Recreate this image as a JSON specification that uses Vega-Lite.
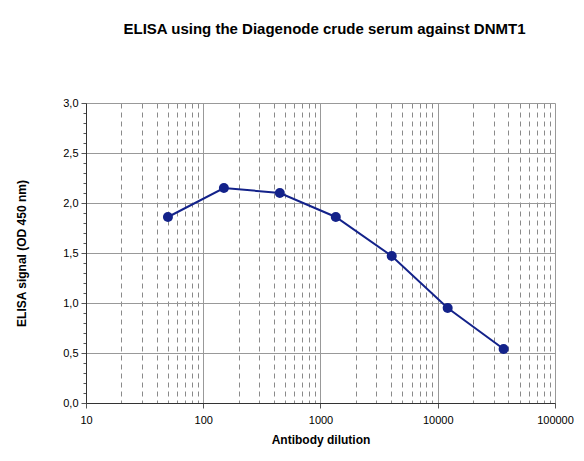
{
  "$schema": "https://vega.github.io/schema/vega-lite/v6.json",
  "width": 469,
  "height": 300,
  "autosize": {"type": "none"},
  "padding": {"left": 86, "top": 103, "right": 29, "bottom": 58},
  "background": "white",
  "title": {
    "text": "ELISA using the Diagenode crude serum against DNMT1",
    "font": "Liberation Sans",
    "fontSize": 15,
    "fontWeight": "bold",
    "color": "#000000",
    "anchor": "middle",
    "dx": 4,
    "offset": 60
  },
  "config": {
    "view": {"stroke": null},
    "axis": {
      "labelFont": "Liberation Sans",
      "labelFontSize": 11,
      "labelColor": "#000000",
      "titleFont": "Liberation Sans",
      "titleFontSize": 12,
      "titleFontWeight": "bold",
      "titleColor": "#000000",
      "domainColor": "#333333",
      "tickColor": "#555555",
      "gridColor": "#999999",
      "gridWidth": 1
    }
  },
  "data": {
    "values": [
      {"dilution": 50, "signal": 1.86},
      {"dilution": 150, "signal": 2.15},
      {"dilution": 450, "signal": 2.10},
      {"dilution": 1350, "signal": 1.86},
      {"dilution": 4050, "signal": 1.47},
      {"dilution": 12150, "signal": 0.95},
      {"dilution": 36450, "signal": 0.54}
    ]
  },
  "encoding": {
    "x": {
      "field": "dilution",
      "type": "quantitative",
      "scale": {"type": "log", "domain": [10, 100000], "nice": false},
      "axis": {
        "title": "Antibody dilution",
        "titlePadding": 9,
        "values": [10,20,30,40,50,60,70,80,90,100,200,300,400,500,600,700,800,900,1000,2000,3000,4000,5000,6000,7000,8000,9000,10000,20000,30000,40000,50000,60000,70000,80000,90000,100000],
        "labelExpr": "indexof([10,100,1000,10000,100000], datum.value) >= 0 ? format(datum.value, 'd') : ''",
        "labelPadding": 6,
        "labelFlush": false,
        "grid": true,
        "gridDash": {"condition": {"test": "indexof([10,100,1000,10000,100000], datum.value) >= 0", "value": []}, "value": [5, 4]},
        "gridColor": {"condition": {"test": "indexof([10,100,1000,10000,100000], datum.value) >= 0", "value": "#999999"}, "value": "#8a8a8a"},
        "tickSize": {"condition": {"test": "indexof([10,100,1000,10000,100000], datum.value) >= 0", "value": 5}, "value": 0}
      }
    },
    "y": {
      "field": "signal",
      "type": "quantitative",
      "scale": {"domain": [0, 3], "nice": false},
      "axis": {
        "title": "ELISA signal (OD 450 nm)",
        "titlePadding": 34,
        "values": [0,0.1,0.2,0.3,0.4,0.5,0.6,0.7,0.8,0.9,1.0,1.1,1.2,1.3,1.4,1.5,1.6,1.7,1.8,1.9,2.0,2.1,2.2,2.3,2.4,2.5,2.6,2.7,2.8,2.9,3.0],
        "labelExpr": "abs(datum.value*2 - round(datum.value*2)) < 1e-6 ? replace(format(datum.value, '.1f'), '.', ',') : ''",
        "labelPadding": 3,
        "grid": true,
        "gridOpacity": {"condition": {"test": "abs(datum.value*2 - round(datum.value*2)) < 1e-6", "value": 1}, "value": 0},
        "tickSize": {"condition": {"test": "abs(datum.value*2 - round(datum.value*2)) < 1e-6", "value": 5}, "value": 3}
      }
    }
  },
  "layer": [
    {"mark": {"type": "line", "color": "#13228a", "strokeWidth": 2}},
    {"mark": {"type": "point", "filled": true, "color": "#13228a", "size": 100, "opacity": 1}}
  ]
}
